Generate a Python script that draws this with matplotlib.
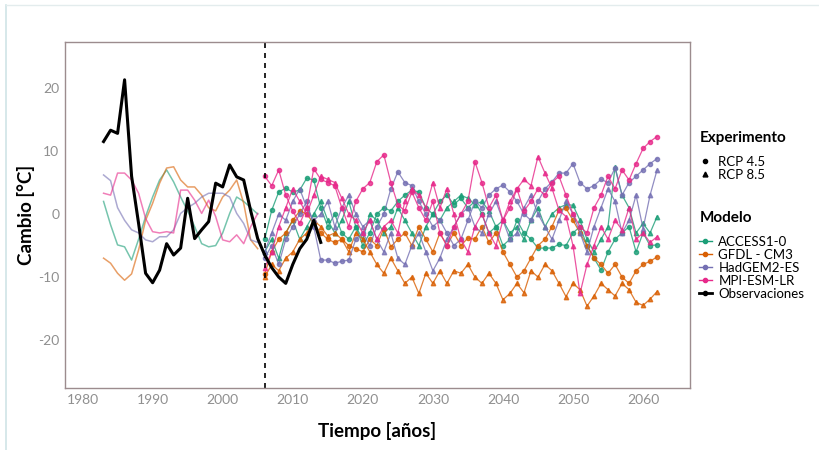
import numpy as np
import matplotlib
matplotlib.use("Agg")
import matplotlib.pyplot as plt
from matplotlib.lines import Line2D

plt.rcParams["font.family"] = ["Lato", "DejaVu Sans"]
plt.rcParams["axes.unicode_minus"] = False

# historical period (no markers), 1983-2005
hist_years = list(range(1983, 2006))
hist_access = [2.0, -1.7, -4.9, -5.2, -7.3, -4.0, -0.4, 2.7, 5.4, 7.0, 5.1, 2.7, 0.5, -2.0, -4.7, -5.2, -5.0, -3.0, 0.1, 2.7, 2.0, 1.0, 0.0]
hist_gfdl = [-7.0, -7.8, -9.4, -10.5, -9.5, -5.7, -1.0, 1.7, 4.9, 7.3, 7.5, 5.4, 4.3, 4.3, 3.0, 1.0, 0.5, 2.7, 3.8, 5.4, 1.7, -4.1, -5.5]
hist_hadgem = [6.2, 5.3, 1.0, -1.0, -2.5, -3.0, -4.1, -4.4, -3.6, -3.6, -2.5, 0.1, 1.0, 1.7, 2.7, 3.3, 3.3, 3.3, 2.7, 0.1, -1.5, -4.1, -4.5]
hist_mpi = [3.3, 3.0, 6.5, 6.5, 5.4, 3.3, -0.7, -2.8, -3.0, -2.8, -3.0, 3.8, 3.8, 2.2, 0.1, 2.2, -0.4, -4.1, -4.4, -3.3, -4.7, -2.0, 0.1]

# observations, 1983-2014
obs_years = list(range(1983, 2015))
obs = [11.5, 13.3, 12.8, 21.3, 6.0, -1.5, -9.4, -10.9, -8.9, -4.7, -6.5, -5.4, 2.5, -3.9, -2.5, -1.2, 4.9, 4.3, 7.8, 5.9, 5.4, 0.5,
       -3.9, -6.5, -8.5, -10.0, -11.0, -8.0, -5.5, -4.0, -1.0, -4.5]

# projections, 2006-2062
proj_years = list(range(2006, 2063))
access_45 = [-4, 0.6, 3.5, 4.1, 3.5, 3.8, 5.7, 5.4, 1, -2,
             0, -3, -4, -2, -5, -3, 0, 1, 0.5, 2,
             3, 3.8, 3.5, 1, 0, 2, 3, 1.5, 2.5, 1,
             2, 0, -3, -2, -5, -4, -1, -3, -4, -5.4,
             -5.4, -5.4, -4.8, -5, -3, -2, -5, -7, -8.9, -6,
             -4, -3, -2, -6, -3, -5, -4.9]
access_85 = [-6, -4, -7, -3, -1, -4, -2, 0, 2, -1,
             -3, -1, 2, -2, -4, 0, -1, -3, -2, 1,
             -1, -3, -5, -2, 0, -1, 1, 2, 3, 2.5,
             1.5, 2, 0.5, -2, -1, -3, -2, -4, -1, 1,
             -2, 0, 1, 1.5, 1.4, -1, -4, -6, -4, -2,
             7.5, 3, 1, -3, -1.5, -3, -0.4]
gfdl_45 = [-9.5, -6, -4, -3, -1, 0.5, 0, -1.5, -3, -4,
           -4.5, -4, -5, -5.5, -6, -4, -5, -2.3, -5.2, -4,
           -3, -5, -2, -4, -6, -3, -5, -3, -5, -3.8,
           -4, -2, -4.5, -3, -6, -8, -10, -9, -7, -5,
           -4, -2, 0.6, 0.9, -1, -3, -5, -7, -8, -9.4,
           -8, -10, -11, -9, -8, -7.5, -6.8]
gfdl_85 = [-10, -8, -9, -7, -6, -4, -3, -1, -2, -3.5,
           -3, -4, -6, -3, -4, -6, -8, -9.4, -7, -9,
           -11, -10, -12.6, -9.4, -11, -9, -11, -9, -9.4, -8,
           -10, -11, -9.4, -11, -13.6, -12.6, -11, -12.5, -9, -10,
           -8, -9, -11, -13.1, -11, -12, -14.6, -13, -11, -12,
           -13, -11, -12, -14, -14.5, -13.5, -12.3]
hadgem_45 = [-7, -5, -8, -4, -2, 0, 2, -2, -7.3, -7.3,
             -7.8, -7.5, -7.3, -4, -3, -5, -2, 0, 4, 6.7,
             5, 4.5, 2, 0, -2, -1, -3, -5, -4, -1,
             2, 1, 3, 4, 4.6, 3.5, 2, 0, -1, 2,
             4, 5.1, 6.5, 6.5, 8, 5, 4, 4.5, 5.5, 5,
             7.3, 3, 5, 6, 7, 8, 8.8]
hadgem_85 = [-6, -3, 0, -1, 2, 4, 1, -1, 0, 2,
             -2, 1, 3, 0, -2, -1, -4, -6, -3, -7,
             -8, -5, -3, -6, -9, -7, -4, -2, 0, 1,
             -2, -3, 0, 2, -1, -4, -3, 1, 3, 0,
             -2, -4, -1, 2, 0, -3, -6, -2, 1, 4,
             2, -3, -1, 3, -2.3, 3, 7.0]
mpi_45 = [6, 4.5, 7, 3, 0.5, -1.5, 1, 7.2, 5.5, 5,
          4.5, 1, -2, 2, 4, 5, 8.3, 9.4, 5, 1.5,
          0.5, 3.5, 1, -1, 2, -3, -5, -2, 0, 2,
          8.3, 5, 1, 3, -1, 1, 4, 0.5, 2, 4,
          3, 5, 6, 3, 0, -2, -3, 1, 3, 6,
          4, 7, 5.4, 8, 10.4, 11.5, 12.3]
mpi_85 = [-8.5, -6, -2, 1, 4, 2, 0, 3, 6, 5.5,
          5, 2.5, 0, -1, -3, -1, -4, -2, -1, -3,
          2, 4, 3, 1, 5, 1, 4, 0, -4, -6,
          -2, 0, -3, -5, -1, 2, 4, 5.5, 4.5, 9.1,
          6.5, 4.1, 0.6, -0.4, -5, -12.6, -8, -5, -2, -4,
          -1, -2.5, 1, -4, -3, -4.5, -3.6]

models = ["ACCESS1-0", "GFDL - CM3", "HadGEM2-ES", "MPI-ESM-LR"]
colors = ["#1b9e77", "#d95f02", "#7570b3", "#e7298a"]
hist = [hist_access, hist_gfdl, hist_hadgem, hist_mpi]
rcp45 = [access_45, gfdl_45, hadgem_45, mpi_45]
rcp85 = [access_85, gfdl_85, hadgem_85, mpi_85]

fig = plt.figure(figsize=(8.19, 4.5), dpi=100)
ax = fig.add_axes([0.0794, 0.1378, 0.7631, 0.7689])

for h, c in zip(hist, colors):
    ax.plot(hist_years, h, color=c, lw=1.1, alpha=0.6)

for y45, y85, c in zip(rcp45, rcp85, colors):
    ax.plot(proj_years, y45, color=c, lw=0.9, alpha=0.8, marker="o", ms=3)
    ax.plot(proj_years, y85, color=c, lw=0.9, alpha=0.8, marker="^", ms=3.2)

ax.plot(obs_years, obs, color="black", lw=2.2)
ax.axvline(2006, color="black", ls=(0, (3, 3)), lw=1.2)

ax.set_xlim(1977.5, 2066.7)
ax.set_ylim(-27.6, 27.3)
ax.set_xticks(range(1980, 2061, 10))
ax.set_yticks([-20, -10, 0, 10, 20])
ax.tick_params(length=0, labelsize=10, colors="#8f8f8f", pad=4)
for s in ax.spines.values():
    s.set_color("#9c8c8e")
    s.set_linewidth(1.0)

ax.set_xlabel("Tiempo [años]", fontsize=13.5, fontweight="bold", labelpad=12)
ax.set_ylabel("Cambio [°C]", fontsize=13.5, fontweight="bold", labelpad=2)

# legends (titles drawn as separate text)
fig.text(0.855, 1 - 138 / 450, "Experimento", fontsize=11, fontweight="bold", va="center")
exp_handles = [Line2D([], [], color="black", marker="o", ls="", ms=3),
               Line2D([], [], color="black", marker="^", ls="", ms=3.5)]
leg1 = fig.legend(exp_handles, ["RCP 4.5", "RCP 8.5"],
                  loc="upper left", bbox_to_anchor=(0.845, 1 - 149 / 450), frameon=False,
                  fontsize=9.5, handlelength=1.0, handletextpad=0.5,
                  labelspacing=0.08, borderpad=0.0)

fig.text(0.855, 1 - 218 / 450, "Modelo", fontsize=11, fontweight="bold", va="center")
mod_handles = [Line2D([], [], color=c, marker="o", ms=3, lw=1) for c in colors]
mod_handles.append(Line2D([], [], color="black", marker="o", ms=3, lw=2))
leg2 = fig.legend(mod_handles, models + ["Observaciones"],
                  loc="upper left", bbox_to_anchor=(0.845, 1 - 229 / 450), frameon=False,
                  fontsize=9.5, handlelength=1.0, handletextpad=0.5,
                  labelspacing=0.08, borderpad=0.0)

# light frame around the figure
fig.add_artist(Line2D([0.007, 0.007], [0.0, 0.988], color="#cfe4e6", lw=1.2))
fig.add_artist(Line2D([0.007, 1.0], [0.988, 0.988], color="#e3eced", lw=1.0))

fig.savefig("out.png", dpi=100)
